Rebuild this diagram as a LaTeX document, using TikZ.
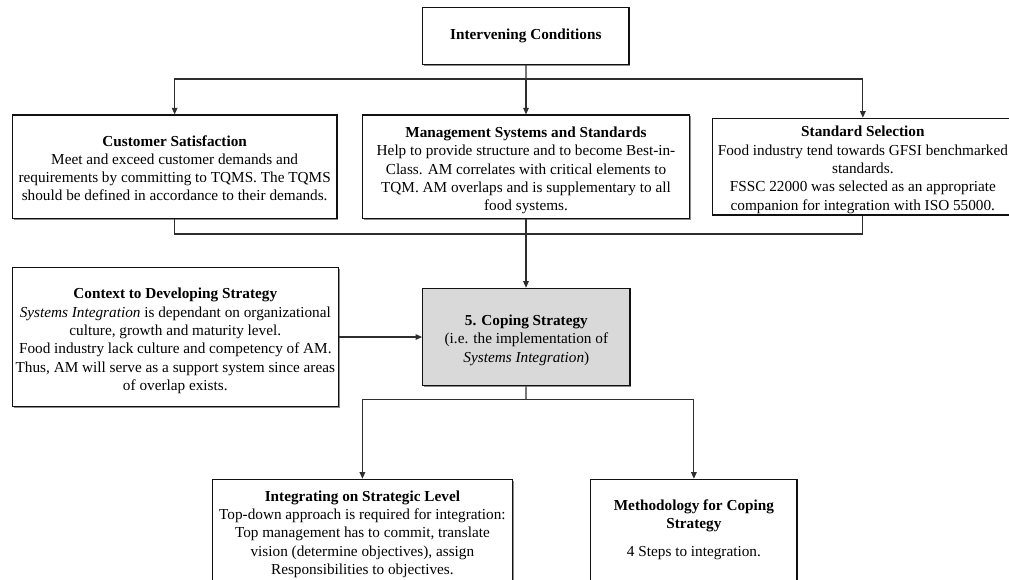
\documentclass[tikz,border=0pt]{standalone}
\usepackage{fontspec}
\setmainfont{Liberation Serif}
\usetikzlibrary{arrows.meta,shadows}

\definecolor{boxline}{HTML}{111111}
\definecolor{linkline}{HTML}{2E2E2E}
\definecolor{corefill}{HTML}{D9D9D9}

% invisible struts that set the height of a first line / depth of a last line
\newcommand{\padtop}[1]{\rule{0pt}{#1}}
\newcommand{\padbottom}[1]{\rule[-#1]{0pt}{#1}}

\tikzset{
  infobox/.style={draw=boxline, line width=1.15pt, fill=white, align=center,
    inner sep=0pt, font=\fontsize{15.25}{18.3}\selectfont,
    drop shadow={shadow xshift=1.3pt, shadow yshift=-1.3pt, opacity=1, fill=black!45}},
  corebox/.style={infobox, fill=corefill},
  link/.style={draw=linkline, line width=1.15pt},
  linkarrow/.style={link, -{Triangle[length=6.5pt,width=5.5pt]}}
}

\begin{document}
\begin{tikzpicture}[x=1pt, y=-1pt]
\useasboundingbox (0,0) rectangle (1009,579);
\clip (0,0) rectangle (1009,579);

% top level
\node[infobox, minimum width=206.3, minimum height=57] (ic) at (525.85,35.8)
  {\textbf{Intervening Conditions}};

% three influencing areas
\node[infobox, minimum width=324.7, minimum height=103.3] (cs) at (174.65,166.65)
  {\padtop{14pt}\textbf{Customer Satisfaction}\\
   Meet and exceed customer demands and\\
   requirements by committing to TQMS. The TQMS\\
   should be defined in accordance to their demands.};
\node[infobox, minimum width=326.6, minimum height=103.3] (ms) at (526,166.65)
  {\padtop{18pt}\textbf{Management Systems and Standards}\\
   Help to provide structure and to become Best-in-\\
   Class. AM correlates with critical elements to\\
   TQM. AM overlaps and is supplementary to all\\
   food systems.};
\node[infobox, minimum width=300.3, minimum height=96.7] (ss) at (862.85,166.65)
  {\padtop{17pt}\textbf{Standard Selection}\\
   Food industry tend towards GFSI benchmarked\\
   standards.\\
   FSSC 22000 was selected as an appropriate\\
   companion for integration with ISO 55000.};

% context and core strategy
\node[infobox, minimum width=326, minimum height=139.4] (ctx) at (175.3,337)
  {\padtop{18.5pt}\textbf{Context to Developing Strategy}\\
   \textit{Systems Integration} is dependant on organizational\\
   culture, growth and maturity level.\\
   Food industry lack culture and competency of AM.\\
   Thus, AM will serve as a support system since areas\\
   of overlap exists.};
\node[corebox, minimum width=207.3, minimum height=97.4] (cp) at (526.35,337)
  {\padtop{17pt}\textbf{5. Coping Strategy}\\
   (i.e. the implementation of\\
   \textit{Systems Integration})};

% consequences
\node[infobox, minimum width=300, minimum height=105.7] (il) at (362.4,532.15)
  {\padtop{14.5pt}\textbf{Integrating on Strategic Level}\\
   Top-down approach is required for integration:\\
   Top management has to commit, translate\\
   vision (determine objectives), assign\\
   Responsibilities to objectives.};
\node[infobox, minimum width=206.2, minimum height=105.7] (mc) at (693.9,532.15)
  {\textbf{Methodology for Coping}\\
   \textbf{Strategy}\\[10pt]
   4 Steps to integration.\padbottom{8pt}};

% junction points of the branching connectors
\coordinate (j1) at (526,79);
\coordinate (j2) at (526,234);
\coordinate (j3) at (526,399.3);

\draw[link] (ic) -- (j1);
\draw[linkarrow] (j1) -| (cs);
\draw[linkarrow] (j1) -- (ms);
\draw[linkarrow] (j1) -| (ss);

\draw[link] (cs) |- (j2) -| (ss);
\draw[linkarrow] (ms.south) -- (ms.south |- cp.north);

\draw[linkarrow] (ctx.east) -- (cp.west);

\draw[link] (cp) -- (j3);
\draw[linkarrow] (j3) -| (il);
\draw[linkarrow] (j3) -| (mc);
\end{tikzpicture}
\end{document}
